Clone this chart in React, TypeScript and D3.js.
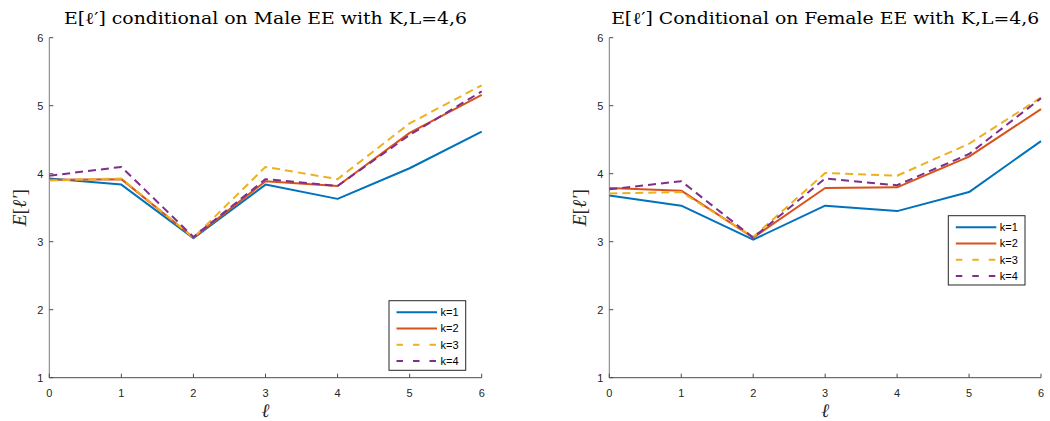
import React from "react";
import * as d3 from "d3";

const xTicks = [0, 1, 2, 3, 4, 5, 6];
const yTicks = [1, 2, 3, 4, 5, 6];
const seriesNames = ["k=1", "k=2", "k=3", "k=4"];
const seriesColors = ["#0072BD", "#D95319", "#EDB120", "#7E2F8E"];
const seriesDashed = [false, false, true, true];

const maleK1 = [3.93, 3.84, 3.05, 3.84, 3.63, 4.08, 4.62];
const maleK2 = [3.91, 3.92, 3.06, 3.89, 3.82, 4.6, 5.16];
const maleK3 = [3.9, 3.93, 3.06, 4.1, 3.92, 4.74, 5.3];
const maleK4 = [3.97, 4.1, 3.07, 3.92, 3.82, 4.57, 5.21];

const femaleK1 = [3.68, 3.53, 3.03, 3.53, 3.45, 3.73, 4.48];
const femaleK2 = [3.79, 3.75, 3.06, 3.79, 3.8, 4.25, 4.95];
const femaleK3 = [3.71, 3.73, 3.07, 4.01, 3.97, 4.44, 5.12];
const femaleK4 = [3.77, 3.89, 3.06, 3.93, 3.83, 4.29, 5.11];

const titles = [
  "E[\u2113\u2032] conditional on Male EE with K,L=4,6",
  "E[\u2113\u2032] Conditional on Female EE with K,L=4,6",
];

const panels = [
  { title: titles[0], titleW: 403, series: [maleK1, maleK2, maleK3, maleK4], x0: 49.3, x1: 481.7, legend: { x: 389, y: 300.7, w: 76.7, h: 69.6 } },
  { title: titles[1], titleW: 428, series: [femaleK1, femaleK2, femaleK3, femaleK4], x0: 609.3, x1: 1041, legend: { x: 948.3, y: 215.7, w: 76.7, h: 69.3 } },
];

const yTop = 37.7;
const yBot = 377.7;

function Panel({ p }: { p: any }) {
  const x = d3.scaleLinear().domain([0, 6]).range([p.x0, p.x1]);
  const y = d3.scaleLinear().domain([1, 6]).range([yBot, yTop]);
  const line = d3
    .line<number>()
    .x((_, i) => x(xTicks[i]))
    .y((d) => y(d));
  const cx = (p.x0 + p.x1) / 2;
  const sans = "'Liberation Sans', Arial, sans-serif";
  const serif = "'Liberation Serif', 'Times New Roman', serif";
  const titleSerif = "'DejaVu Serif', serif";
  const lg = p.legend;
  return (
    <g>
      <text
        x={cx - p.titleW / 2}
        y={24}
        textLength={p.titleW}
        lengthAdjust="spacingAndGlyphs"
        fontFamily={titleSerif}
        fontSize={16.5}
        fill="#000"
      >
        {p.title}
      </text>
      {/* axes */}
      <line x1={p.x0} x2={p.x0} y1={yTop} y2={yBot} stroke="#7a7a7a" strokeWidth={1} />
      <line x1={p.x0} x2={p.x1} y1={yBot} y2={yBot} stroke="#4a4a4a" strokeWidth={1} />
      {yTicks.map((t) => (
        <g key={"y" + t}>
          <line x1={p.x0} x2={p.x0 + 4} y1={y(t)} y2={y(t)} stroke="#4a4a4a" strokeWidth={1} />
          <text x={p.x0 - 6} y={y(t)} dy="0.35em" textAnchor="end" fontFamily={sans} fontSize={11} fill="#262626">
            {t}
          </text>
        </g>
      ))}
      {xTicks.map((t) => (
        <g key={"x" + t}>
          <line x1={x(t)} x2={x(t)} y1={yBot} y2={yBot - 4} stroke="#4a4a4a" strokeWidth={1} />
          <text x={x(t)} y={392.7} dy="0.35em" textAnchor="middle" fontFamily={sans} fontSize={11} fill="#262626">
            {t}
          </text>
        </g>
      ))}
      <text x={cx} y={417} textAnchor="middle" fontFamily={serif} fontStyle="italic" fontSize={19} fill="#262626">
        {"\u2113"}
      </text>
      <text
        transform={`translate(${p.x0 - 23},${(yTop + yBot) / 2}) rotate(-90)`}
        textAnchor="middle"
        fontFamily={serif}
        fontSize={19.5}
        fill="#262626"
      >
        <tspan fontStyle="italic">E</tspan>
        <tspan>[</tspan>
        <tspan fontStyle="italic">{"\u2113\u2032"}</tspan>
        <tspan>]</tspan>
      </text>
      {/* series */}
      {p.series.map((s: number[], i: number) => (
        <path
          key={i}
          d={line(s) || ""}
          fill="none"
          stroke={seriesColors[i]}
          strokeWidth={2}
          strokeDasharray={seriesDashed[i] ? "8,5" : undefined}
          strokeLinejoin="round"
        />
      ))}
      {/* legend */}
      <rect x={lg.x} y={lg.y} width={lg.w} height={lg.h} fill="#fff" stroke="#262626" strokeWidth={1} />
      {seriesNames.map((n, i) => {
        const ly = lg.y + 11.6 + i * 16.2;
        return (
          <g key={n}>
            <line
              x1={lg.x + 7.5}
              x2={lg.x + 48}
              y1={ly}
              y2={ly}
              stroke={seriesColors[i]}
              strokeWidth={2}
              strokeDasharray={seriesDashed[i] ? "6.5,10" : undefined}
            />
            <text x={lg.x + 51.5} y={ly} dy="0.35em" fontFamily={sans} fontSize={11} fill="#000">
              {n}
            </text>
          </g>
        );
      })}
    </g>
  );
}

export default function App() {
  return (
    <svg
      width={1050}
      height={421}
      style={{ position: "absolute", left: 0, top: 0, background: "#fff" }}
    >
      <rect width={1050} height={421} fill="#fff" />
      {panels.map((p, i) => (
        <Panel key={i} p={p} />
      ))}
    </svg>
  );
}
